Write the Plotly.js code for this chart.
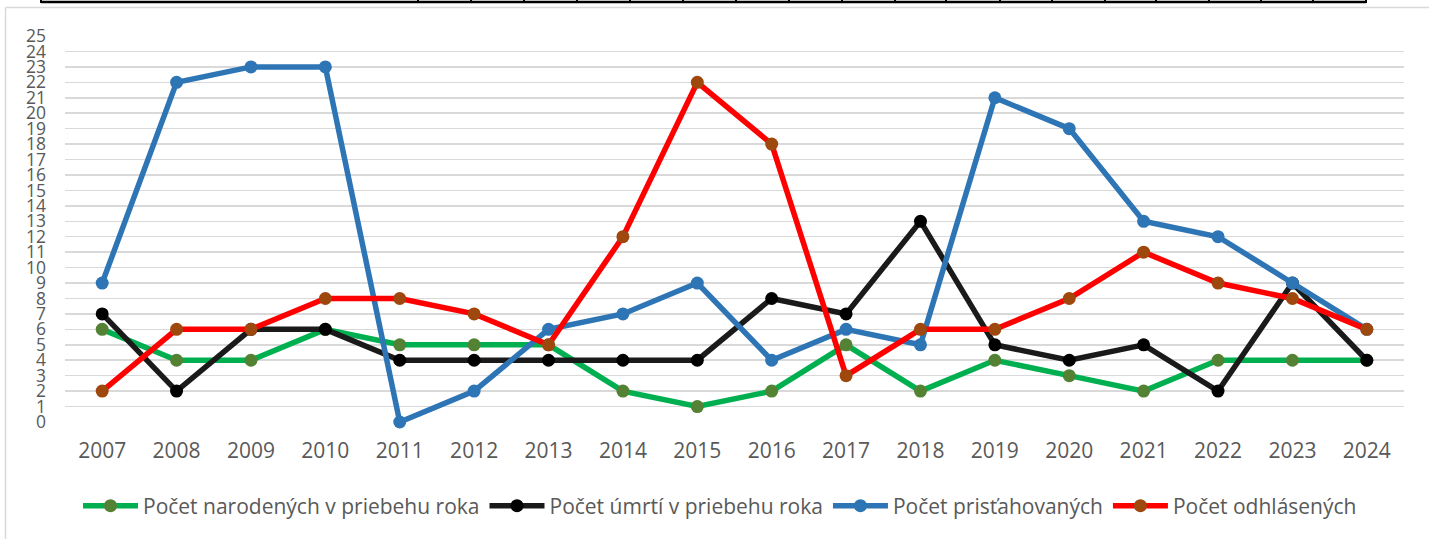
<!DOCTYPE html>
<html>
<head>
<meta charset="utf-8">
<script src="https://cdn.plot.ly/plotly-3.0.1.min.js"></script>
<style>html,body{margin:0;padding:0;background:#fff;}#chart{width:1429px;height:539px;}</style>
</head>
<body>
<div id="chart"></div>
<script>
const years = ['2007','2008','2009','2010','2011','2012','2013','2014','2015','2016','2017','2018','2019','2020','2021','2022','2023','2024'];
const narodenych = [6,4,4,6,5,5,5,2,1,2,5,2,4,3,2,4,4,4];
const umrti = [7,2,6,6,4,4,4,4,4,8,7,13,5,4,5,2,9,4];
const pristahovanych = [9,22,23,23,0,2,6,7,9,4,6,5,21,19,13,12,9,6];
const odhlasenych = [2,6,6,8,8,7,5,12,22,18,3,6,6,8,11,9,8,6];
const seriesNames = ['Počet narodených v priebehu roka','Počet úmrtí v priebehu roka','Počet prisťahovaných','Počet odhlásených'];
const yTicks = Array.from({length: 26}, (_, i) => i);

// decorative frame pieces (pixel positions in page)
const plotL = 65, plotR = 1404, plotT = 36, plotB = 422;
const px = x => (x - plotL) / (plotR - plotL);
const py = y => (plotB - y) / (plotB - plotT);
const tableTicks = [41,418,471,524,577,630,683,736,789,842,895,946,1000,1052,1105,1156,1209,1261,1313,1366];

function mk(y, name, lineColor, markerColor) {
  return {
    x: years, y: y, name: name, type: 'scatter', mode: 'lines+markers',
    line: {color: lineColor, width: 5.5},
    marker: {color: markerColor, size: 13},
    cliponaxis: false
  };
}
const data = [
  mk(narodenych, seriesNames[0], '#00B050', '#548235'),
  mk(umrti, seriesNames[1], '#1A1A1A', '#000000'),
  mk(pristahovanych, seriesNames[2], '#2E75B6', '#2E75B6'),
  mk(odhlasenych, seriesNames[3], '#FF0000', '#9E480E')
];

const shapes = [
  {type:'line', xref:'paper', yref:'paper', x0:px(5.5), x1:px(1435), y0:py(7.5), y1:py(7.5), line:{color:'#D9D9D9', width:1.5}},
  {type:'line', xref:'paper', yref:'paper', x0:px(5.5), x1:px(5.5), y0:py(7.5), y1:py(545), line:{color:'#D9D9D9', width:1.5}},
  {type:'line', xref:'paper', yref:'paper', x0:px(41), x1:px(1366), y0:py(2), y1:py(2), line:{color:'#000', width:2.5}}
];
tableTicks.forEach(t => shapes.push({type:'line', xref:'paper', yref:'paper', x0:px(t), x1:px(t), y0:py(-2), y1:py(3), line:{color:'#000', width:2}}));

const layout = {
  width: 1429, height: 539,
  margin: {l: plotL, r: 1429 - plotR, t: plotT, b: 539 - plotB, pad: 0},
  paper_bgcolor: '#fff', plot_bgcolor: '#fff',
  font: {family: 'Open Sans, sans-serif', color: '#595959'},
  showlegend: true,
  legend: {orientation: 'h', x: px(720), xanchor: 'center', y: py(506), yanchor: 'middle',
           font: {size: 21, color: '#595959'}, itemwidth: 55, traceorder: 'normal', tracegroupgap: 0},
  xaxis: {type: 'category', range: [-0.5, 17.5], showgrid: false, zeroline: false, showline: false,
          ticks: '', tickfont: {size: 21, color: '#595959'}, ticklabelstandoff: 14, fixedrange: true},
  yaxis: {range: [0, 25], tickvals: yTicks, ticktext: yTicks.map(String), showgrid: true, gridcolor: '#D9D9D9', gridwidth: 1.5,
          zeroline: false, showline: false, ticks: '', tickfont: {size: 17.5, color: '#595959'}, ticklabelstandoff: 18, fixedrange: true},
  shapes: shapes
};
Plotly.newPlot('chart', data, layout, {displayModeBar: false, staticPlot: true});
</script>
</body>
</html>
